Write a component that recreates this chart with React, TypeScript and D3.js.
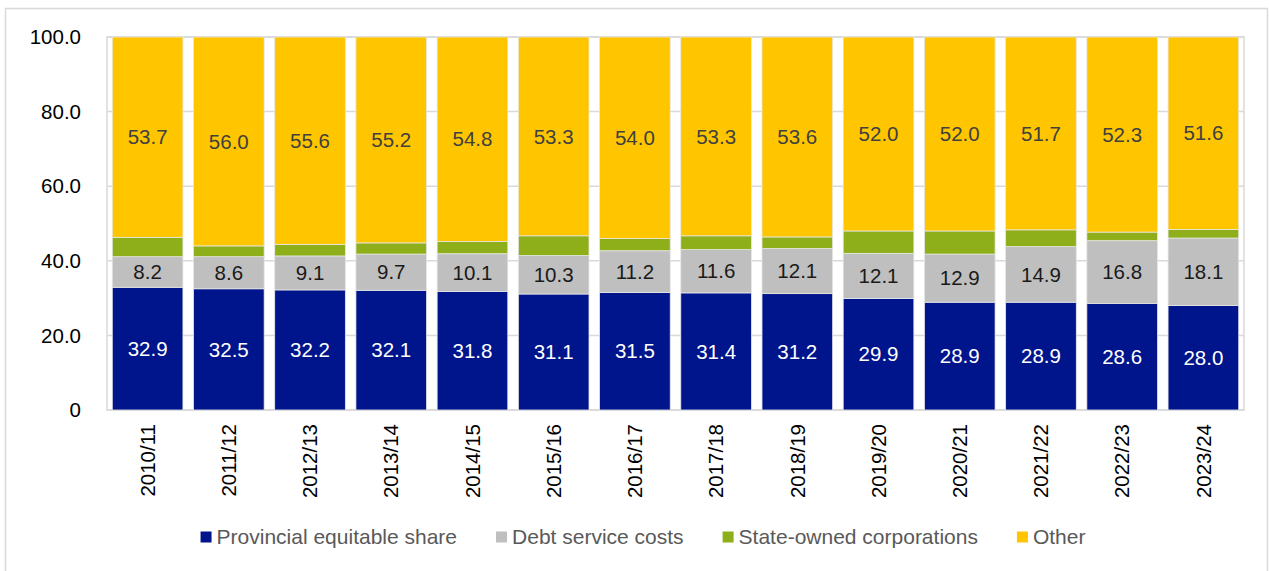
import React, { useEffect, useRef } from 'react'
import * as d3 from 'd3'

const categories = [
  '2010/11', '2011/12', '2012/13', '2013/14', '2014/15', '2015/16', '2016/17',
  '2017/18', '2018/19', '2019/20', '2020/21', '2021/22', '2022/23', '2023/24',
]
const provincial = [32.9, 32.5, 32.2, 32.1, 31.8, 31.1, 31.5, 31.4, 31.2, 29.9, 28.9, 28.9, 28.6, 28.0]
const debt = [8.2, 8.6, 9.1, 9.7, 10.1, 10.3, 11.2, 11.6, 12.1, 12.1, 12.9, 14.9, 16.8, 18.1]
const stateOwned = [5.2, 2.9, 3.1, 3.0, 3.3, 5.3, 3.3, 3.7, 3.1, 6.0, 6.2, 4.5, 2.3, 2.3]
const other = [53.7, 56.0, 55.6, 55.2, 54.8, 53.3, 54.0, 53.3, 53.6, 52.0, 52.0, 51.7, 52.3, 51.6]
const yTicks = [0, 20, 40, 60, 80, 100]

const seriesNames = ['Provincial equitable share', 'Debt service costs', 'State-owned corporations', 'Other']
const seriesValues = [provincial, debt, stateOwned, other]
const colors = ['#00148C', '#BFBFBF', '#8FAF1A', '#FFC600']
const labelColors = ['#FFFFFF', '#1A1A1A', null, '#404040']

const W = 1269
const H = 571
const margin = { top: 37, right: 25, bottom: 161, left: 107 }

const App = () => {
  const svgRef = useRef<SVGSVGElement>(null)

  useEffect(() => {
    const svg = d3.select(svgRef.current)
    svg.selectAll('*').remove()
    const font = '"Liberation Sans", Arial, sans-serif'

    const x = d3
      .scaleBand()
      .domain(categories)
      .range([margin.left, W - margin.right])
      .paddingInner(0.13)
      .paddingOuter(0.065)
    const y = d3.scaleLinear().domain([0, 100]).range([H - margin.bottom, margin.top])

    // outer frame
    svg
      .append('rect')
      .attr('x', 5.5)
      .attr('y', 8.5)
      .attr('width', W - 7)
      .attr('height', H)
      .attr('fill', 'none')
      .attr('stroke', '#D9D9D9')
      .attr('stroke-width', 1.5)

    // gridlines
    svg
      .append('g')
      .selectAll('line')
      .data(yTicks)
      .join('line')
      .attr('x1', margin.left)
      .attr('x2', W - margin.right)
      .attr('y1', (d) => y(d))
      .attr('y2', (d) => y(d))
      .attr('stroke', '#D9D9D9')
      .attr('stroke-width', 1.5)

    svg
      .append('rect')
      .attr('x', margin.left)
      .attr('y', margin.top)
      .attr('width', W - margin.right - margin.left)
      .attr('height', y(0) - y(100))
      .attr('fill', 'none')
      .attr('stroke', '#D9D9D9')
      .attr('stroke-width', 1.5)

    // y tick labels
    svg
      .append('g')
      .selectAll('text')
      .data(yTicks)
      .join('text')
      .attr('x', margin.left - 26)
      .attr('y', (d) => y(d))
      .attr('dy', '0.35em')
      .attr('text-anchor', 'end')
      .attr('font-family', font)
      .attr('font-size', 20.5)
      .attr('fill', '#000')
      .text((d) => (d === 0 ? '0' : d.toFixed(1)))

    // stacked data
    const table = categories.map((c, i) => {
      const row: any = { cat: c }
      seriesNames.forEach((s, k) => (row[s] = seriesValues[k][i]))
      return row
    })
    const stacked = d3.stack().keys(seriesNames)(table)

    const layers = svg
      .append('g')
      .selectAll('g')
      .data(stacked)
      .join('g')
      .attr('fill', (d, k) => colors[k])

    layers
      .selectAll('rect')
      .data((d) => d)
      .join('rect')
      .attr('x', (d: any) => x(d.data.cat)!)
      .attr('width', x.bandwidth())
      .attr('y', (d) => y(d[1]))
      .attr('height', (d) => y(d[0]) - y(d[1]))
      .attr('stroke', '#E6E6E6')
      .attr('stroke-width', 0.8)

    // data labels
    stacked.forEach((layer, k) => {
      if (!labelColors[k]) return
      svg
        .append('g')
        .selectAll('text')
        .data(layer)
        .join('text')
        .attr('x', (d: any) => x(d.data.cat)! + x.bandwidth() / 2)
        .attr('y', (d) => y((d[0] + d[1]) / 2))
        .attr('dy', '0.35em')
        .attr('text-anchor', 'middle')
        .attr('font-family', font)
        .attr('font-size', 20.5)
        .attr('fill', labelColors[k]!)
        .text((d) => (d[1] - d[0]).toFixed(1))
    })

    // category labels
    svg
      .append('g')
      .selectAll('text')
      .data(categories)
      .join('text')
      .attr('transform', (d) => `translate(${x(d)! + x.bandwidth() / 2},${y(0) + 14}) rotate(-90)`)
      .attr('dy', '0.35em')
      .attr('text-anchor', 'end')
      .attr('font-family', font)
      .attr('font-size', 20.5)
      .attr('fill', '#000')
      .text((d) => d)

    // legend
    const legend = svg.append('g')
    let cx = 0
    seriesNames.forEach((s, k) => {
      const g = legend.append('g').attr('transform', `translate(${cx},0)`)
      g.append('rect').attr('x', 0).attr('y', -5.5).attr('width', 11).attr('height', 11).attr('fill', colors[k])
      const t = g
        .append('text')
        .attr('x', 16)
        .attr('dy', '0.35em')
        .attr('font-family', font)
        .attr('font-size', 21)
        .attr('fill', '#595959')
        .text(s)
      const tw = (t.node() as SVGTextElement).getComputedTextLength()
      cx += 16 + tw + 39
    })
    const total = cx - 39
    legend.attr('transform', `translate(${643 - total / 2},537)`)
  }, [])

  return <svg ref={svgRef} width={W} height={H} style={{ display: 'block', position: 'absolute', left: 0, top: 0 }} />
}

export default App
